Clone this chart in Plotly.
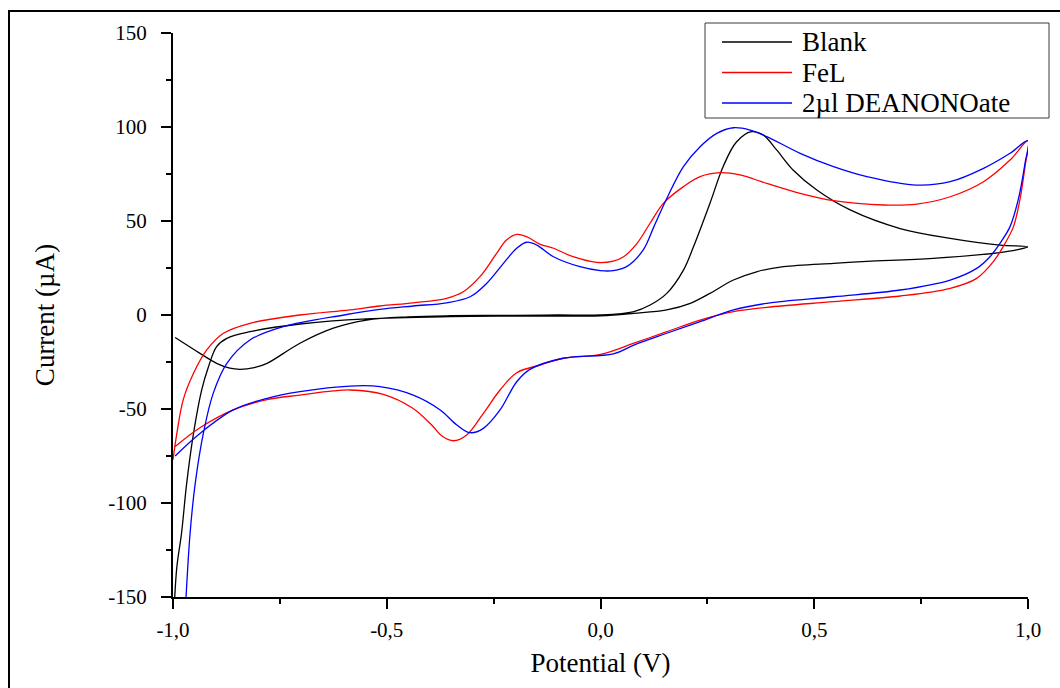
import plotly.graph_objects as go

# Cyclic voltammograms: potential (V) vs current (µA), each trace is one closed sweep
series_names = ["Blank", "FeL", "2µl DEANONOate"]
series_colors = ["#000000", "#FF0000", "#0000FF"]

blank_v = [-0.995, -0.937, -0.898, -0.867, -0.843, -0.81, -0.78, -0.703, -0.625, -0.547, -0.45,
           -0.35, -0.2, -0.1, 0.0, 0.078, 0.116, 0.155, 0.194, 0.217, 0.256, 0.287, 0.318, 0.353,
           0.381, 0.412, 0.451, 0.506, 0.584, 0.701, 0.818, 0.934, 1.0,
           0.973, 0.934, 0.778, 0.623, 0.545, 0.428, 0.365, 0.311, 0.256, 0.21, 0.155, 0.078, 0.0,
           -0.2, -0.35, -0.547, -0.703, -0.82, -0.874, -0.898, -0.917, -0.933, -0.952, -0.968,
           -0.98, -0.991, -0.997]
blank_i = [-12, -20.4, -25.7, -28.3, -28.9, -28.0, -25.7, -15, -7, -2.7, -1.0,
           -0.4, -0.2, 0, 0, 1.8, 5.3, 11.5, 23.9, 36, 59.4, 79, 92, 97.5,
           95.7, 87.8, 77, 66.5, 55.9, 46, 40.8, 37.2, 36.3,
           34.6, 33.2, 30.1, 28.5, 27.5, 25.7, 23, 18.6, 11.5, 6.2, 2.7, 0.9, -0.4,
           -0.6, -0.9, -2.1, -4.8, -8.9, -12.4, -16.8, -27.5, -40, -63, -89.6,
           -116, -134, -155]

fel_v = [-1.0, -0.991, -0.976, -0.952, -0.921, -0.882, -0.82, -0.703, -0.586, -0.516, -0.438,
         -0.36, -0.321, -0.282, -0.243, -0.22, -0.196, -0.173, -0.141, -0.11, -0.064, -0.009,
         0.03, 0.054, 0.085, 0.116, 0.147, 0.194, 0.233, 0.28, 0.326, 0.389, 0.467, 0.545,
         0.662, 0.74, 0.818, 0.896, 0.958, 1.0,
         0.993, 0.981, 0.966, 0.946, 0.919, 0.88, 0.818, 0.701, 0.545, 0.389, 0.311, 0.233,
         0.155, 0.078, 0.0, -0.087, -0.141, -0.196, -0.235, -0.274, -0.313, -0.344, -0.37,
         -0.395, -0.44, -0.508, -0.586, -0.625, -0.703, -0.78, -0.859, -0.937, -0.995]
fel_i = [-77, -63, -45, -31, -18.6, -9.7, -4.4, 0, 2.7, 4.8, 6.5,
         8.9, 12.4, 20.4, 32.8, 39.9, 42.9, 41.7, 37.6, 35.5, 31, 28,
         28.7, 31, 38, 48.8, 59.4, 68.3, 73.6, 75.7, 74.5, 70, 64.7, 60.8,
         58.5, 59, 62.9, 70.9, 82.4, 92.7,
         78.9, 61.2, 47, 38, 28.4, 19.5, 14.2, 10.1, 7.1, 4.1, 1.8, -2.7,
         -8.9, -15, -21, -23, -26.6, -30.7, -39.9, -52.3, -63.8, -66.9, -64.5,
         -58.5, -49.5, -42.2, -39.9, -40.4, -42.6, -45, -50.5, -60, -70]

deanonoate_v = [-0.973, -0.96, -0.948, -0.929, -0.906, -0.874, -0.82, -0.742, -0.6, -0.516,
                -0.438, -0.36, -0.305, -0.266, -0.227, -0.196, -0.173, -0.149, -0.11, -0.048,
                0.0, 0.03, 0.061, 0.1, 0.125, 0.155, 0.194, 0.233, 0.272, 0.311, 0.35, 0.389,
                0.467, 0.545, 0.623, 0.74, 0.818, 0.896, 0.958, 1.0,
                0.993, 0.977, 0.958, 0.934, 0.911, 0.88, 0.818, 0.701, 0.545, 0.389, 0.311,
                0.233, 0.155, 0.078, 0.03, -0.087, -0.165, -0.196, -0.235, -0.274, -0.305,
                -0.336, -0.375, -0.438, -0.516, -0.586, -0.703, -0.78, -0.859, -0.937, -0.995]
deanonoate_i = [-165, -116, -89.6, -63, -41.7, -25.7, -13.3, -6.2, 0.0, 3,
                4.8, 6.5, 9.7, 16.9, 27.5, 35.5, 38.7, 37.2, 31, 25.7,
                23.6, 23.6, 25.7, 34.6, 47, 62, 78.9, 89.5, 96.6, 99.6, 98.4, 94.9,
                86, 78.9, 73.6, 69.1, 70.9, 78, 86, 92.7,
                80.7, 61.2, 47, 38, 31, 24.8, 18.6, 13.3, 9.7, 6.2, 2.7,
                -3.5, -9.7, -16, -20.7, -23, -28.9, -35.5, -50.5, -60.3, -62.6,
                -58.5, -50.5, -42.6, -38.1, -37.8, -40.8, -44.3, -50.5, -63, -75]

x_tick_vals = [-1.0, -0.5, 0.0, 0.5, 1.0]
x_tick_text = ["-1,0", "-0,5", "0,0", "0,5", "1,0"]
y_tick_vals = [-150, -100, -50, 0, 50, 100, 150]
y_tick_text = ["-150", "-100", "-50", "0", "50", "100", "150"]

FONT = "Liberation Serif, Times New Roman, serif"
W, H = 1060, 688
ML, MR, MT, MB = 173, 32, 33, 91
PW, PH = W - ML - MR, H - MT - MB


def px_x(px):
    return (px - ML) / PW


def px_y(py):
    return (H - MB - py) / PH


fig = go.Figure()
for name, color, v, i in zip(series_names, series_colors,
                             [blank_v, fel_v, deanonoate_v],
                             [blank_i, fel_i, deanonoate_i]):
    fig.add_trace(go.Scatter(x=v, y=i, mode="lines", name=name,
                             line=dict(color=color, width=1.3, shape="spline", smoothing=1.0),
                             showlegend=False))

axis_common = dict(showline=True, linecolor="black", linewidth=2, ticks="outside",
                   tickwidth=2, tickcolor="black", ticklen=10, showgrid=False,
                   zeroline=False, mirror=False,
                   tickfont=dict(family=FONT, size=21, color="black"))

fig.update_xaxes(range=[-1, 1], tickmode="array", tickvals=x_tick_vals, ticktext=x_tick_text,
                 minor=dict(tickmode="linear", tick0=-1, dtick=0.25, ticklen=5, tickwidth=2,
                            tickcolor="black", ticks="outside"),
                 title=dict(text="Potential (V)", font=dict(family=FONT, size=27, color="black"),
                            standoff=12),
                 ticklabelstandoff=3,
                 **axis_common)
fig.update_yaxes(range=[-150, 150], tickmode="array", tickvals=y_tick_vals, ticktext=y_tick_text,
                 minor=dict(tickmode="linear", tick0=-150, dtick=25, ticklen=5, tickwidth=2,
                            tickcolor="black", ticks="outside"),
                 title=dict(text="Current (µA)", font=dict(family=FONT, size=27, color="black"),
                            standoff=46),
                 ticklabelstandoff=10,
                 **axis_common)

# outer frame around the figure
fig.add_shape(type="rect", xref="paper", yref="paper",
              x0=px_x(9), x1=px_x(1075), y0=px_y(705), y1=px_y(11),
              line=dict(color="black", width=2), layer="above")

# legend box with line samples
fig.add_shape(type="rect", xref="paper", yref="paper",
              x0=px_x(705), x1=px_x(1049), y0=px_y(118), y1=px_y(23),
              line=dict(color="#3a3a3a", width=1), fillcolor="white", layer="above")
for k, (name, color) in enumerate(zip(series_names, series_colors)):
    row_y = px_y(42 + k * 30.5)
    fig.add_shape(type="line", xref="paper", yref="paper",
                  x0=px_x(722), x1=px_x(792), y0=row_y, y1=row_y,
                  line=dict(color=color, width=1.3), layer="above")
    fig.add_annotation(xref="paper", yref="paper", x=px_x(800), y=row_y,
                       text=name, showarrow=False, xanchor="left", yanchor="middle",
                       font=dict(family=FONT, size=27, color="black"))

fig.update_layout(width=W, height=H, margin=dict(l=ML, r=MR, t=MT, b=MB),
                  paper_bgcolor="white", plot_bgcolor="white", showlegend=False)

fig.write_html("out.html")
